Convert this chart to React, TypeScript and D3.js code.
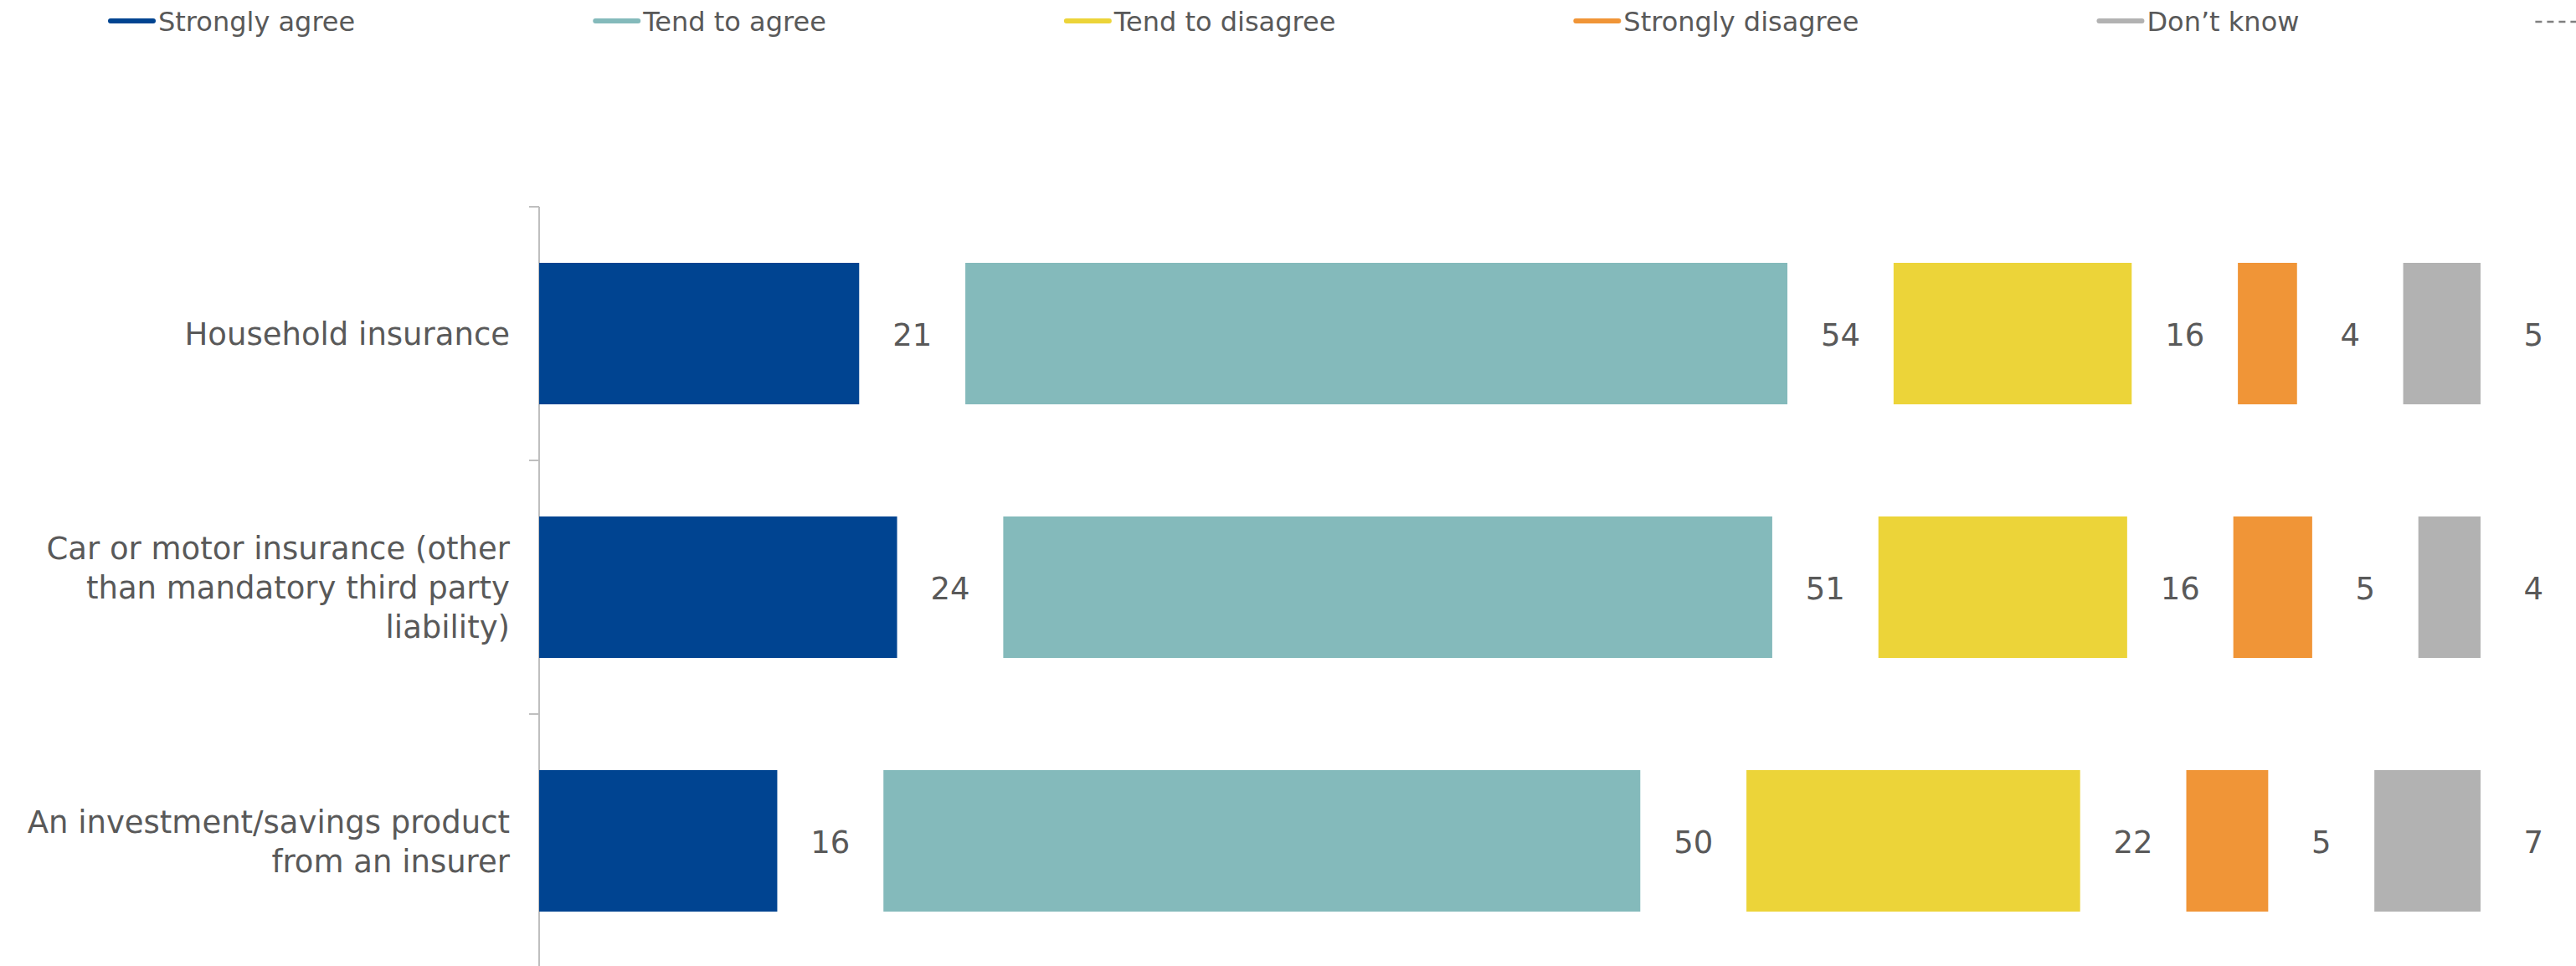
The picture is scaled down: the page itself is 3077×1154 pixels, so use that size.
import React, { useMemo } from "react";
import * as d3 from "d3";

const categories = [
  "Household insurance",
  "Car or motor insurance (other than mandatory third party liability)",
  "An investment/savings product from an insurer",
];
const categoryLines = [
  ["Household insurance"],
  ["Car or motor insurance (other", "than mandatory third party", "liability)"],
  ["An investment/savings product", "from an insurer"],
];
const seriesNames = ["Strongly agree", "Tend to agree", "Tend to disagree", "Strongly disagree", "Don\u2019t know"];
const seriesColors = ["#004491", "#84BABB", "#ECD439", "#F09537", "#B2B2B2"];
const stronglyAgree = [21.1, 23.6, 15.7];
const tendToAgree = [54.2, 50.7, 49.9];
const tendToDisagree = [15.7, 16.4, 22.0];
const stronglyDisagree = [3.9, 5.2, 5.4];
const dontKnow = [5.1, 4.1, 7.0];
const seriesValues = [stronglyAgree, tendToAgree, tendToDisagree, stronglyDisagree, dontKnow];
const gapUnits = 7;
const xMax = 135;

const W = 3077;
const H = 1154;
const FONT = "'DejaVu Sans', Verdana, sans-serif";
const TEXT = "#595959";
const fmt = d3.format(".0f");

function measure(text: string, size: number) {
  try {
    const c = document.createElement("canvas").getContext("2d");
    if (c) {
      c.font = `${size}px 'DejaVu Sans'`;
      return c.measureText(text).width;
    }
  } catch (e) {}
  return text.length * size * 0.55;
}

export default function App() {
  const x = d3.scaleLinear().domain([0, xMax]).range([644, 644 + xMax * 18.117]);
  const y = d3
    .scaleBand<string>()
    .domain(categories)
    .range([247, 247 + 303 * categories.length])
    .paddingInner(0.4422)
    .paddingOuter(0.2211);

  const legendItems = useMemo(() => {
    const items: { x: number; name: string; color: string; dashed?: boolean }[] = [];
    let cx = 129;
    seriesNames.forEach((n, i) => {
      items.push({ x: cx, name: n, color: seriesColors[i] });
      cx += 60 + measure(n, 32) + 284;
    });
    items.push({ x: cx - 5, name: "", color: "#808080", dashed: true });
    return items;
  }, []);

  const segments: { cat: string; s: number; start: number; v: number }[] = [];
  categories.forEach((cat, ci) => {
    let acc = 0;
    seriesValues.forEach((vals, s) => {
      segments.push({ cat, s, start: acc, v: vals[ci] });
      acc += vals[ci] + gapUnits;
    });
  });

  const step = y.step();
  const tickYs = categories.map((c, i) => y.range()[0] + i * step).concat([y.range()[0] + categories.length * step]);

  return (
    <svg
      width={W}
      height={H}
      style={{ position: "absolute", left: 0, top: 0, background: "#fff" }}
      fontFamily={FONT}
    >
      <rect x={0} y={0} width={W} height={H} fill="#fff" />
      {/* legend */}
      {legendItems.map((it, i) => (
        <g key={i}>
          {it.dashed ? (
            <line x1={it.x + 3} x2={it.x + 60} y1={26} y2={26} stroke={it.color} strokeWidth={2.5} strokeDasharray="8,6" />
          ) : (
            <line x1={it.x + 3} x2={it.x + 54} y1={25} y2={25} stroke={it.color} strokeWidth={6} strokeLinecap="round" />
          )}
          {it.name && (
            <text x={it.x + 60} y={37} fontSize={32} fill={TEXT}>
              {it.name}
            </text>
          )}
        </g>
      ))}
      {/* axis */}
      <line x1={644} x2={644} y1={tickYs[0]} y2={tickYs[tickYs.length - 1]} stroke="#BFBFBF" strokeWidth={2} />
      {tickYs.map((t, i) => (
        <line key={i} x1={632} x2={644} y1={t} y2={t} stroke="#BFBFBF" strokeWidth={2} />
      ))}
      {/* category labels */}
      {categories.map((c, ci) => {
        const lines = categoryLines[ci];
        const center = (y(c) as number) + y.bandwidth() / 2;
        const first = center + 13.5 - ((lines.length - 1) * 47) / 2;
        return (
          <text key={c} x={609} y={first} fontSize={37} fill={TEXT} textAnchor="end">
            {lines.map((l, li) => (
              <tspan key={li} x={609} y={first + li * 47}>
                {l}
              </tspan>
            ))}
          </text>
        );
      })}
      {/* bars */}
      {segments.map((sg, i) => (
        <rect
          key={i}
          x={x(sg.start)}
          y={y(sg.cat)}
          width={x(sg.start + sg.v) - x(sg.start)}
          height={y.bandwidth()}
          fill={seriesColors[sg.s]}
        />
      ))}
      {/* data labels */}
      {segments.map((sg, i) => (
        <text
          key={"l" + i}
          x={x(sg.start + sg.v + gapUnits / 2)}
          y={(y(sg.cat) as number) + y.bandwidth() / 2 + 14}
          fontSize={37}
          fill={TEXT}
          textAnchor="middle"
        >
          {fmt(sg.v)}
        </text>
      ))}
    </svg>
  );
}
